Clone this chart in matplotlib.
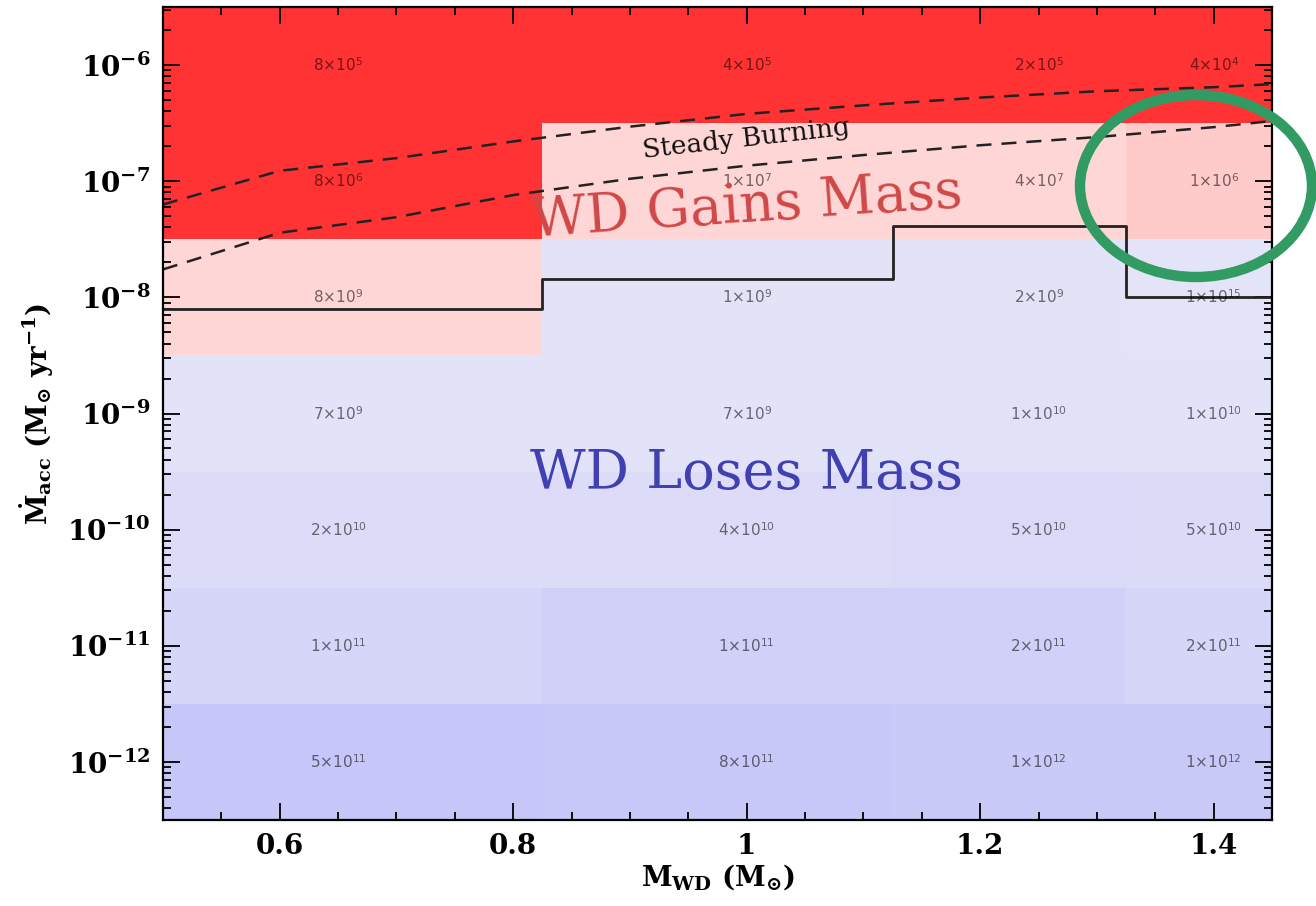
import numpy as np
import matplotlib
matplotlib.use('Agg')
import matplotlib.pyplot as plt
from matplotlib.patches import Ellipse
from matplotlib.ticker import MultipleLocator, LogLocator, FixedLocator, NullFormatter

plt.rcParams['font.family'] = ['DejaVu Serif']
plt.rcParams['mathtext.fontset'] = 'custom'
plt.rcParams['mathtext.rm'] = 'DejaVu Serif:bold'
plt.rcParams['mathtext.it'] = 'DejaVu Serif:bold:italic'
plt.rcParams['mathtext.bf'] = 'DejaVu Serif:bold'
plt.rcParams['mathtext.sf'] = 'DejaVu Sans'

# --- data ---
wd_mass = [0.65, 1.0, 1.25, 1.4]
log_mdot = [-6, -7, -8, -9, -10, -11, -12]

# timescale labels per cell (mantissa, exponent), rows follow log_mdot
t_mant = [[8, 4, 2, 4],
          [8, 1, 4, 1],
          [8, 1, 2, 1],
          [7, 7, 1, 1],
          [2, 4, 5, 5],
          [1, 1, 2, 2],
          [5, 8, 1, 1]]
t_exp = [[5, 5, 5, 4],
         [6, 7, 7, 6],
         [9, 9, 9, 15],
         [9, 9, 10, 10],
         [10, 10, 10, 10],
         [11, 11, 11, 11],
         [11, 11, 12, 12]]

# critical accretion rate (solid step line), one per mass column
mdot_crit = [8e-9, 1.45e-8, 4.1e-8, 1.0e-8]

# steady burning strip (dashed lines)
sb_mass = [0.5, 0.6, 0.7, 0.8, 0.9, 1.0, 1.1, 1.2, 1.3, 1.4, 1.45]
sb_upper = [6.3e-8, 1.23e-7, 1.58e-7, 2.2e-7, 2.95e-7, 3.8e-7, 4.5e-7,
            5.25e-7, 5.95e-7, 6.45e-7, 6.85e-7]
sb_lower = [1.74e-8, 3.6e-8, 4.9e-8, 7.6e-8, 1.05e-7, 1.36e-7, 1.68e-7,
            2.04e-7, 2.4e-7, 2.92e-7, 3.3e-7]

# cell shading (style)
RED = '#ff3333'
cell_colors = [[RED, RED, RED, RED],
               [RED, '#ffd6d6', '#ffd6d6', '#ffcaca'],
               ['#ffd6d6', '#e3e3f8', '#e3e3f8', '#e4e4f8'],
               ['#e2e2f8', '#e2e2f8', '#e1e1f8', '#e2e2f8'],
               ['#dcdcf8', '#dcdcf8', '#dadaf8', '#dbdbf8'],
               ['#d6d6f8', '#d0d0f8', '#d0d0f8', '#d6d6f8'],
               ['#c6c6f8', '#c8c8f8', '#cacaf8', '#c9c9f8']]

xmin, xmax = 0.5, 1.45
m = np.array(wd_mass)
x_edges = np.concatenate([[xmin], (m[:-1] + m[1:]) / 2, [xmax]])

fig = plt.figure(figsize=(13.16, 9.06), dpi=100)
ax = fig.add_axes([163/1316, 1 - 820/906, (1272-163)/1316, (820-7)/906])
ax.set_yscale('log')

for i, lm in enumerate(log_mdot):
    lo, hi = 10.0**(lm - 0.5), 10.0**(lm + 0.5)
    for j in range(len(wd_mass)):
        ax.bar(x_edges[j], hi - lo, bottom=lo, width=x_edges[j+1] - x_edges[j],
               align='edge', color=cell_colors[i][j], linewidth=0, zorder=1)
        ax.text(wd_mass[j], 10.0**lm,
                r'%d×10$^{\mathsf{%d}}$' % (t_mant[i][j], t_exp[i][j]),
                ha='center', va='center', fontsize=11, family='DejaVu Sans',
                color='black', alpha=0.55, zorder=4)

ax.step(x_edges, mdot_crit + [mdot_crit[-1]], where='post', color='#222222',
        lw=2, zorder=3)
ax.plot(sb_mass, sb_upper, color='#222222', lw=1.8, dashes=(6, 4), zorder=3)
ax.plot(sb_mass, sb_lower, color='#222222', lw=1.8, dashes=(6, 4), zorder=3)

ax.text(1.0, 2.3e-7, 'Steady Burning', rotation=6.5, ha='center', va='center',
        fontsize=19, color='#111111', zorder=5)
ax.text(1.0, 6.0e-8, 'WD Gains Mass', rotation=4, ha='center', va='center',
        fontsize=39, color='#d04848', zorder=5)
ax.text(1.0, 3.0e-10, 'WD Loses Mass', ha='center', va='center',
        fontsize=39, color='#4040b0', zorder=5)

ax.set_xlim(xmin, xmax)
ax.set_ylim(10**-12.5, 10**-5.5)
ax.xaxis.set_major_locator(FixedLocator([0.6, 0.8, 1.0, 1.2, 1.4]))
ax.set_xticklabels(['0.6', '0.8', '1', '1.2', '1.4'])
ax.xaxis.set_minor_locator(MultipleLocator(0.05))
ax.yaxis.set_major_locator(FixedLocator([10.0**k for k in log_mdot]))
ax.set_yticklabels([r'10$^{%d}$' % k for k in log_mdot])
ax.yaxis.set_minor_locator(LogLocator(base=10, subs=np.arange(2, 10), numticks=20))
ax.yaxis.set_minor_formatter(NullFormatter())
ax.tick_params(which='both', direction='in', top=True, right=True, width=1.3,
               labelsize=20, pad=9, zorder=6)
ax.tick_params(which='major', length=12)
ax.tick_params(which='minor', length=6)
for lab in ax.get_xticklabels() + ax.get_yticklabels():
    lab.set_fontweight('bold')
for s in ax.spines.values():
    s.set_linewidth(1.6)
    s.set_zorder(6)

ax.set_xlabel(r'M$_{\rm WD}$ (M$_{\odot}$)', fontsize=20, fontweight='bold', labelpad=2)
ax.set_ylabel(r'$\dot{\rm M}_{\rm acc}$ (M$_{\odot}$ yr$^{-1}$)', fontsize=20,
              fontweight='bold', labelpad=8)

# highlight ring
ring = Ellipse((1196/1316, 1 - 186/906), 232/1316, 182/906,
               transform=fig.transFigure, fill=False, edgecolor='#329b64',
               lw=7.5, clip_on=False, zorder=10)
fig.patches.append(ring)

fig.savefig('out.png', dpi=100, facecolor='white')
